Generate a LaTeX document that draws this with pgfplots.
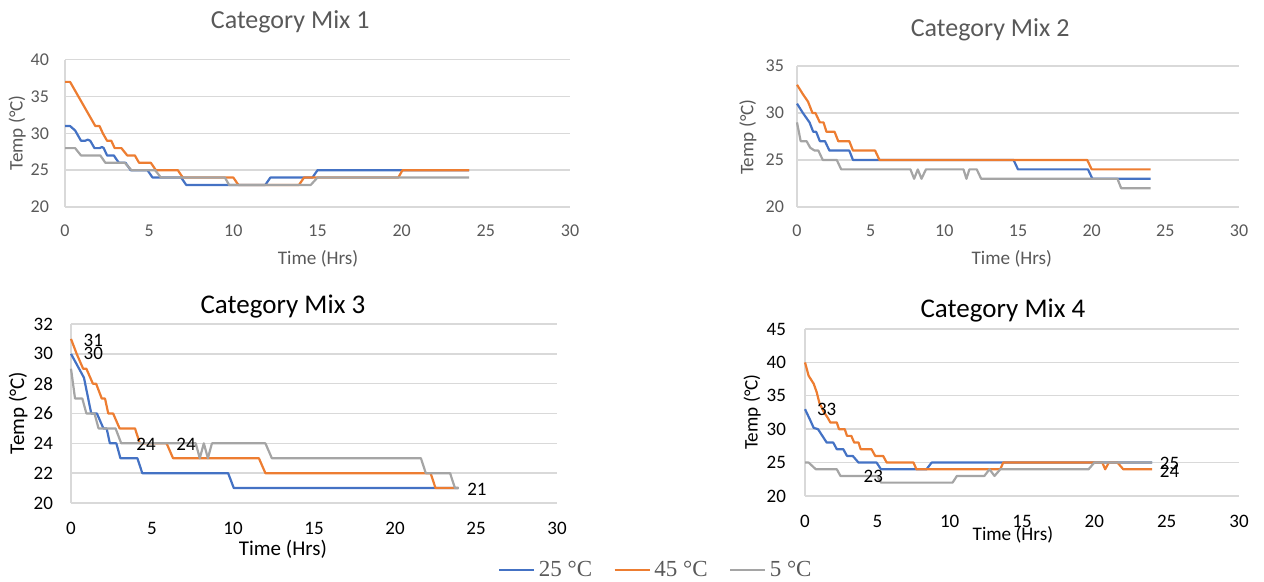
\documentclass[border=0pt]{standalone}
\usepackage{fontspec}
\setmainfont{Carlito}
\newfontfamily\legfont{Liberation Serif}
\usepackage{pgfplots}
\pgfplotsset{compat=1.18}

\definecolor{c25}{HTML}{4472C4}
\definecolor{c45}{HTML}{ED7D31}
\definecolor{c05}{HTML}{A5A5A5}
\definecolor{ctext}{HTML}{595959}
\definecolor{cgrid}{HTML}{D9D9D9}

\pgfplotsset{
  mix/.style={
    scale only axis, anchor=south west,
    xmin=0, xmax=30, xtick={0,5,...,30},
    axis x line*=bottom, axis y line*=left,
    axis line style={draw=cgrid, line width=0.7pt, -},
    ymajorgrids, grid style={draw=cgrid, line width=0.7pt},
    major tick length=0pt,
    every axis title shift=0pt,
    /pgf/number format/assume math mode=true,
    every axis plot/.append style={line width=1.1pt, line join=round},
    clip=false,
  },
}

\begin{document}
\begin{tikzpicture}
\path[use as bounding box] (0,0) rectangle (632pt,291pt);

% ---------------- Category Mix 1
\begin{axis}[mix,
  at={(32.5pt,187.5pt)}, width=252.5pt, height=73.6pt,
  ymin=20, ymax=40, ytick={20,25,...,40},
  tick label style={font=\fontsize{9}{10}\selectfont, text=ctext},
  xticklabel style={yshift=-5.5pt}, yticklabel style={xshift=-4.5pt},
  title={Category Mix 1},
  title style={at={(axis description cs:0.446,1.257)}, anchor=center,
               font=\fontsize{13}{15}\selectfont, text=ctext},
  xlabel={Time (Hrs)}, ylabel={Temp (°C)},
  xlabel style={at={(axis description cs:0.501,-0.353)}, anchor=center,
                font=\fontsize{9.6}{11}\selectfont, text=ctext},
  ylabel style={at={(axis description cs:-0.095,0.503)}, anchor=center,
                font=\fontsize{9.6}{11}\selectfont, text=ctext},
]
\addplot[c25] coordinates {(0,31)(0.3,31)(0.6,30.4)(0.95,29)(1.2,29)(1.35,29.15)(1.5,29)
  (1.75,28)(2.05,28)(2.2,28.15)(2.3,28)(2.5,27)(2.9,27)(3.2,26)(3.6,26)(3.9,25)(4.9,25)
  (5.2,24)(6.9,24)(7.2,23)(11.9,23)(12.2,24)(14.7,24)(15,25)(24,25)};
\addplot[c45] coordinates {(0,37)(0.3,37)(1.8,31)(2.05,31)(2.25,30)(2.5,29)(2.75,29)
  (2.95,28)(3.35,28)(3.7,27)(4.15,27)(4.4,26)(5.1,26)(5.4,25)(6.7,25)(7.0,24)(10.0,24)
  (10.3,23)(13.9,23)(14.2,24)(19.8,24)(20.05,25)(24,25)};
\addplot[c05] coordinates {(0,28)(0.6,28)(0.95,27)(2.1,27)(2.4,26)(3.55,26)(3.95,25)
  (5.35,25)(5.7,24)(9.5,24)(9.75,23)(14.6,23)(15.0,24)(24,24)};
\end{axis}

% ---------------- Category Mix 2
\begin{axis}[mix,
  at={(398.5pt,187.5pt)}, width=221pt, height=70.5pt,
  ymin=20, ymax=35, ytick={20,25,...,35},
  tick label style={font=\fontsize{9}{10}\selectfont, text=ctext},
  xticklabel style={yshift=-5.5pt}, yticklabel style={xshift=-3pt},
  title={Category Mix 2},
  title style={at={(axis description cs:0.437,1.255)}, anchor=center,
               font=\fontsize{13}{15}\selectfont, text=ctext},
  xlabel={Time (Hrs)}, ylabel={Temp (°C)},
  xlabel style={at={(axis description cs:0.486,-0.369)}, anchor=center,
                font=\fontsize{9.6}{11}\selectfont, text=ctext},
  ylabel style={at={(axis description cs:-0.111,0.496)}, anchor=center,
                font=\fontsize{9.6}{11}\selectfont, text=ctext},
]
\addplot[c25] coordinates {(0,31)(0.4,30)(0.85,29)(1.1,28)(1.3,28)(1.55,27)(1.9,27)
  (2.2,26)(3.55,26)(3.8,25)(14.7,25)(15.0,24)(19.75,24)(20.05,23)(24,23)};
\addplot[c45] coordinates {(0,33)(0.4,32)(0.75,31.2)(1.05,30)(1.25,30)(1.55,29)(1.8,29)
  (2.0,28)(2.55,28)(2.8,27)(3.55,27)(3.8,26)(5.3,26)(5.6,25)(19.7,25)(20.0,24)(24,24)};
\addplot[c05] coordinates {(0,29)(0.25,27)(0.65,27)(0.9,26.3)(1.2,26)(1.45,26)(1.75,25)
  (2.7,25)(3.0,24)(7.7,24)(7.95,23)(8.2,24)(8.45,23)(8.75,24)(11.3,24)(11.5,23)(11.7,24)
  (12.2,24)(12.5,23)(21.75,23)(22.0,22)(24,22)};
\end{axis}

% ---------------- Category Mix 3
\begin{axis}[mix,
  at={(35.5pt,39.5pt)}, width=243pt, height=89.5pt,
  ymin=20, ymax=32, ytick={20,22,...,32},
  tick label style={font=\fontsize{9.5}{10}\selectfont, text=black},
  xticklabel style={yshift=-6pt}, yticklabel style={xshift=-5.5pt},
  title={Category Mix 3},
  title style={at={(axis description cs:0.436,1.10)}, anchor=center,
               font=\fontsize{13.5}{15}\selectfont, text=black},
  xlabel={Time (Hrs)}, ylabel={Temp (°C)},
  xlabel style={at={(axis description cs:0.436,-0.257)}, anchor=center,
                font=\fontsize{10.5}{12}\selectfont, text=black},
  ylabel style={at={(axis description cs:-0.109,0.503)}, anchor=center,
                font=\fontsize{10.5}{12}\selectfont, text=black},
  legend columns=3,
  legend style={at={(axis description cs:1.206,-0.374)}, anchor=center,
                draw=none, fill=none, text=ctext,
                font=\legfont\fontsize{11.5}{13}\selectfont,
                /tikz/every even column/.append style={column sep=9pt}},
  legend image code/.code={\draw[#1, line width=0.6pt] (0pt,0pt) -- (17.5pt,0pt);},
]
\addplot[c25] coordinates {(0,30)(0.3,29.4)(0.8,28.4)(1.25,26)(1.6,26)(2.0,25)(2.2,25)
  (2.4,24)(2.8,24)(3.05,23)(4.1,23)(4.4,22)(9.7,22)(10.05,21)(23.9,21)};
\addlegendentry{25 °C}
\addplot[c45] coordinates {(0,31)(0.35,30)(0.75,29)(0.95,29)(1.35,28)(1.55,28)(1.9,27)
  (2.1,27)(2.3,26)(2.6,26)(3.0,25)(3.95,25)(4.25,24)(5.9,24)(6.3,23)(11.6,23)(12.0,22)
  (22.2,22)(22.5,21)(23.9,21)};
\addlegendentry{45 °C}
\addplot[c05] coordinates {(0,29)(0.25,27)(0.7,27)(0.95,26)(1.45,26)(1.7,25)(2.75,25)
  (3.1,24)(7.7,24)(7.95,23)(8.2,24)(8.45,23)(8.7,24)(12.0,24)(12.4,23)(21.6,23)(21.9,22)
  (23.4,22)(23.7,21)(23.95,21)};
\addlegendentry{5 °C}
\node[font=\fontsize{9.5}{10}\selectfont] at (axis cs:1.38,30.9) {31};
\node[font=\fontsize{9.5}{10}\selectfont] at (axis cs:1.38,30.0) {30};
\node[font=\fontsize{9.5}{10}\selectfont] at (axis cs:4.63,23.9) {24};
\node[font=\fontsize{9.5}{10}\selectfont] at (axis cs:7.1,23.9) {24};
\node[font=\fontsize{9.5}{10}\selectfont] at (axis cs:25.06,20.9) {21};
\end{axis}

% ---------------- Category Mix 4
\begin{axis}[mix,
  at={(402.5pt,43pt)}, width=217pt, height=83.5pt,
  ymin=20, ymax=45, ytick={20,25,...,45},
  tick label style={font=\fontsize{9.5}{10}\selectfont, text=black},
  xticklabel style={yshift=-6pt}, yticklabel style={xshift=-6pt},
  title={Category Mix 4},
  title style={at={(axis description cs:0.456,1.108)}, anchor=center,
               font=\fontsize{13.5}{15}\selectfont, text=black},
  xlabel={Time (Hrs)}, ylabel={Temp (°C)},
  xlabel style={at={(axis description cs:0.479,-0.234)}, anchor=center,
                font=\fontsize{9.6}{11}\selectfont, text=black},
  ylabel style={at={(axis description cs:-0.122,0.503)}, anchor=center,
                font=\fontsize{9.6}{11}\selectfont, text=black},
]
\addplot[c25] coordinates {(0,33)(0.35,31.4)(0.6,30.2)(0.9,30)(1.5,28)(1.95,28)(2.2,27)
  (2.65,27)(2.9,26)(3.3,26)(3.7,25)(4.95,25)(5.25,24)(8.4,24)(8.75,25)(24,25)};
\addplot[c45] coordinates {(0,40)(0.25,38)(0.6,36.8)(0.8,35.6)(1.0,33.9)(1.3,32.6)
  (1.6,31.6)(1.75,31)(2.2,31)(2.35,30)(2.75,30)(2.9,29)(3.2,29)(3.4,28)(3.7,28)(3.85,27)
  (4.6,27)(4.85,26)(5.4,26)(5.65,25)(7.5,25)(7.7,24)(13.5,24)(13.7,25)(20.55,25)(20.75,24)
  (21.0,25)(21.6,25)(22.0,24)(24,24)};
\addplot[c05] coordinates {(0,25)(0.25,25)(0.75,24)(2.2,24)(2.45,23)(5.0,23)(5.25,22)
  (10.2,22)(10.5,23)(12.4,23)(12.75,24)(13.1,23)(13.5,24)(19.6,24)(20.0,25)(24,25)};
\node[font=\fontsize{9.5}{10}\selectfont] at (axis cs:1.5,32.9) {33};
\node[font=\fontsize{9.5}{10}\selectfont] at (axis cs:4.72,22.9) {23};
\node[font=\fontsize{9.5}{10}\selectfont] at (axis cs:25.2,24.9) {25};
\node[font=\fontsize{9.5}{10}\selectfont] at (axis cs:25.2,23.7) {24};
\end{axis}
\end{tikzpicture}
\end{document}
